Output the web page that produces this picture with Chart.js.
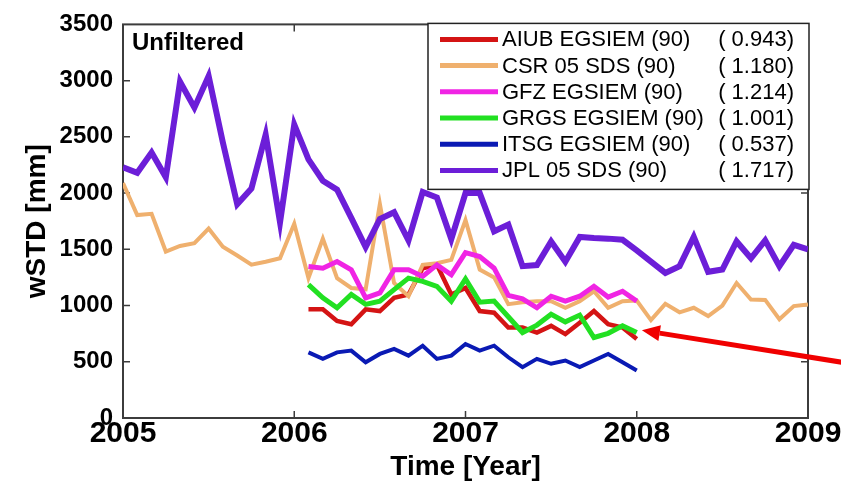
<!DOCTYPE html>
<html>
<head>
<meta charset="utf-8">
<script src="https://cdn.jsdelivr.net/npm/chart.js@4.4.1/dist/chart.umd.min.js"></script>
<style>
  body { margin: 0; background: #fff; }
</style>
</head>
<body>
<canvas id="wstdChart" width="841" height="484"></canvas>
<script>
// monthly time stamps (decimal years)
const time0509 = [2005.000, 2005.083, 2005.167, 2005.250, 2005.333, 2005.417, 2005.500, 2005.583, 2005.667, 2005.750, 2005.833, 2005.917,
  2006.000, 2006.083, 2006.167, 2006.250, 2006.333, 2006.417, 2006.500, 2006.583, 2006.667, 2006.750, 2006.833, 2006.917,
  2007.000, 2007.083, 2007.167, 2007.250, 2007.333, 2007.417, 2007.500, 2007.583, 2007.667, 2007.750, 2007.833, 2007.917,
  2008.000, 2008.083, 2008.167, 2008.250, 2008.333, 2008.417, 2008.500, 2008.583, 2008.667, 2008.750, 2008.833, 2008.917,
  2009.000];
const time0608 = [2006.083, 2006.167, 2006.250, 2006.333, 2006.417, 2006.500, 2006.583, 2006.667, 2006.750, 2006.833, 2006.917,
  2007.000, 2007.083, 2007.167, 2007.250, 2007.333, 2007.417, 2007.500, 2007.583, 2007.667, 2007.750, 2007.833, 2007.917,
  2008.000];

// wSTD [mm]
const aiub = [966, 966, 863, 834, 966, 951, 1068, 1098, 1332, 1362, 1098, 1156,
  951, 936, 804, 804, 760, 819, 746, 848, 951, 834, 804, 702];
const csr = [2090, 1805, 1816, 1480, 1530, 1555, 1684, 1523, 1445, 1364, 1390, 1420,
  1728, 1244, 1596, 1244, 1156, 1144, 1904, 1200, 1083, 1362, 1376, 1406,
  1760, 1320, 1250, 1012, 1030, 1039, 1039, 980, 1039, 1127, 980, 1039,
  1045, 870, 1015, 940, 980, 907, 1000, 1200, 1054, 1050, 878, 995, 1010];
const gfz = [1347, 1332, 1391, 1318, 1068, 1112, 1318, 1318, 1259, 1362, 1274, 1470,
  1435, 1332, 1090, 1060, 980, 1083, 1039, 1083, 1171, 1075, 1127, 1039];
const grgs = [1186, 1068, 980, 1098, 1010, 1039, 1142, 1244, 1215, 1171, 1039, 1237,
  1030, 1040, 900, 760, 826, 922, 855, 915, 716, 753, 819, 760];
const itsg = [584, 526, 584, 599, 496, 570, 614, 555, 643, 526, 555, 658,
  599, 643, 540, 452, 526, 482, 511, 452, 511, 570, 496, 423];
const jpl = [2230, 2180, 2360, 2140, 2990, 2760, 3040, 2450, 1900, 2040, 2520, 1740,
  2610, 2300, 2110, 2030, 1780, 1520, 1770, 1830, 1580, 2010, 1960, 1590,
  2000, 2000, 1660, 1720, 1350, 1360, 1570, 1390, 1610, 1600, 1595, 1585,
  1490, 1390, 1290, 1350, 1610, 1300, 1320, 1570, 1420, 1580, 1350, 1540, 1500];

const names = ["AIUB EGSIEM (90)", "CSR 05 SDS (90)", "GFZ EGSIEM (90)", "GRGS EGSIEM (90)", "ITSG EGSIEM (90)", "JPL 05 SDS (90)"];
const rms = ["( 0.943)", "( 1.180)", "( 1.214)", "( 1.001)", "( 0.537)", "( 1.717)"];
const colors = ["#d41414", "#efb06e", "#f024e4", "#22e022", "#0a1ab4", "#6c1ed8"];
const widths = [4.5, 4, 5, 5, 4, 6];

const xTicks = [2005, 2006, 2007, 2008, 2009];
const yTicks = [0, 500, 1000, 1500, 2000, 2500, 3000, 3500];

const fontFamily = "'Liberation Sans', Arial, sans-serif";

function toPoints(t, v) {
  return v.map((val, i) => ({ x: t[i], y: val }));
}

const series = [
  toPoints(time0608, aiub),
  toPoints(time0509, csr),
  toPoints(time0608, gfz),
  toPoints(time0608, grgs),
  toPoints(time0608, itsg),
  toPoints(time0509, jpl),
];

// box frame with inward ticks, like the matlab axes
const framePlugin = {
  id: "frame",
  beforeDatasetsDraw(chart) {
    const { ctx, chartArea: a, scales } = chart;
    ctx.save();
    ctx.strokeStyle = "#3c3c3c";
    ctx.lineWidth = 2;
    ctx.strokeRect(a.left, a.top, a.right - a.left, a.bottom - a.top);
    ctx.lineWidth = 1.5;
    ctx.beginPath();
    xTicks.slice(1, -1).forEach((v) => {
      const px = scales.x.getPixelForValue(v);
      ctx.moveTo(px, a.bottom); ctx.lineTo(px, a.bottom - 7);
      ctx.moveTo(px, a.top); ctx.lineTo(px, a.top + 7);
    });
    yTicks.slice(1, -1).forEach((v) => {
      const py = scales.y.getPixelForValue(v);
      ctx.moveTo(a.left, py); ctx.lineTo(a.left + 7, py);
      ctx.moveTo(a.right, py); ctx.lineTo(a.right - 7, py);
    });
    ctx.stroke();
    ctx.restore();
  },
};

const overlayPlugin = {
  id: "overlay",
  afterDatasetsDraw(chart) {
    const { ctx, chartArea: a, scales } = chart;
    ctx.save();

    // panel label
    ctx.fillStyle = "#000";
    ctx.font = "bold 24px " + fontFamily;
    ctx.textAlign = "left";
    ctx.textBaseline = "middle";
    ctx.fillText("Unfiltered", a.left + 9, a.top + 19);

    // legend box
    const bx = 428, by = a.top - 1, bw = a.right + 1 - bx, bh = 166;
    ctx.fillStyle = "#fff";
    ctx.fillRect(bx, by, bw, bh);
    ctx.strokeStyle = "#222";
    ctx.lineWidth = 1.5;
    ctx.strokeRect(bx, by, bw, bh);
    ctx.font = "22px " + fontFamily;
    names.forEach((name, i) => {
      const y = by + 16 + i * 26.2;
      ctx.strokeStyle = colors[i];
      ctx.lineWidth = 5;
      ctx.beginPath();
      ctx.moveTo(bx + 12, y);
      ctx.lineTo(bx + 70, y);
      ctx.stroke();
      ctx.fillStyle = "#000";
      ctx.textAlign = "left";
      ctx.fillText(name, bx + 74, y + 1);
      ctx.textAlign = "right";
      ctx.fillText(rms[i], bx + bw - 15, y + 1);
    });

    // red arrow pointing at the end of the short series
    const tipX = scales.x.getPixelForValue(2008.03);
    const tipY = scales.y.getPixelForValue(780);
    const tailX = chart.width + 10, tailY = tipY + (tailX - tipX) * 0.16;
    const ang = Math.atan2(tailY - tipY, tailX - tipX);
    const hl = 18, hw = 8;
    const baseX = tipX + Math.cos(ang) * hl, baseY = tipY + Math.sin(ang) * hl;
    ctx.strokeStyle = "#f00000";
    ctx.fillStyle = "#f00000";
    ctx.lineWidth = 5;
    ctx.beginPath();
    ctx.moveTo(baseX, baseY);
    ctx.lineTo(tailX, tailY);
    ctx.stroke();
    ctx.beginPath();
    ctx.moveTo(tipX, tipY);
    ctx.lineTo(baseX - Math.sin(ang) * hw, baseY + Math.cos(ang) * hw);
    ctx.lineTo(baseX + Math.sin(ang) * hw, baseY - Math.cos(ang) * hw);
    ctx.closePath();
    ctx.fill();

    ctx.restore();
  },
};

const ctx = document.getElementById("wstdChart").getContext("2d");

new Chart(ctx, {
  type: "line",
  data: {
    datasets: series.map((pts, i) => ({
      label: names[i],
      data: pts,
      borderColor: colors[i],
      backgroundColor: colors[i],
      borderWidth: widths[i],
      pointRadius: 0,
      tension: 0,
      fill: false,
      order: names.length - i,
    })),
  },
  options: {
    responsive: false,
    animation: false,
    devicePixelRatio: 1,
    layout: { padding: { left: 0, right: 33, top: 21, bottom: 0 } },
    plugins: {
      legend: { display: false },
      tooltip: { enabled: false },
    },
    scales: {
      x: {
        type: "linear",
        min: 2005,
        max: 2009,
        grid: { display: false, drawTicks: false },
        border: { display: false },
        ticks: {
          stepSize: 1,
          padding: -2,
          maxRotation: 0,
          color: "#000",
          font: { family: fontFamily, size: 30, weight: "bold" },
          callback: (v) => String(v),
        },
        title: {
          display: true,
          text: "Time [Year]",
          color: "#000",
          font: { family: fontFamily, size: 28, weight: "bold" },
          padding: { top: 0, bottom: 0 },
        },
        afterFit: (s) => { s.height = 66; },
      },
      y: {
        min: 0,
        max: 3500,
        grid: { display: false, drawTicks: false },
        border: { display: false },
        ticks: {
          stepSize: 500,
          padding: 10,
          color: "#000",
          font: { family: fontFamily, size: 24, weight: "bold" },
          callback: (v) => String(v),
        },
        title: {
          display: true,
          text: "wSTD [mm]",
          color: "#000",
          font: { family: fontFamily, size: 28, weight: "bold" },
          padding: { top: 20, bottom: 0 },
        },
        afterFit: (s) => { s.width = 123; },
      },
    },
  },
  plugins: [framePlugin, overlayPlugin],
});
</script>
</body>
</html>
